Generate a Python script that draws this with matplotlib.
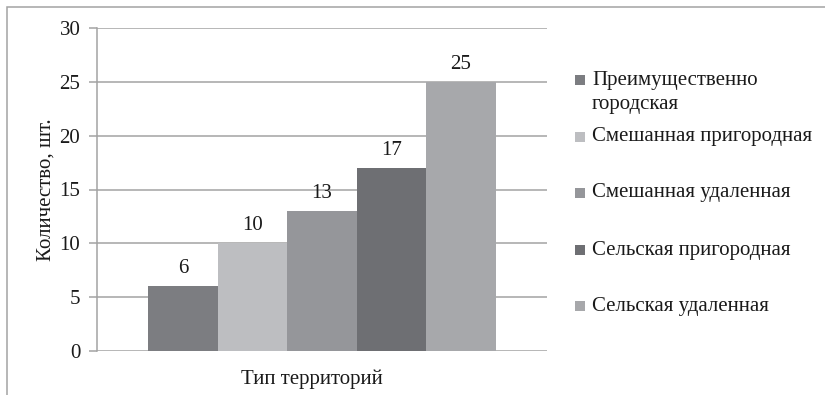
import matplotlib
matplotlib.use("Agg")
import matplotlib.pyplot as plt
import matplotlib.transforms as mtransforms
from matplotlib.patches import Rectangle

categories = ["Тип территорий"]
series_names = [
    "Преимущественно\nгородская",
    "Смешанная пригородная",
    "Смешанная удаленная",
    "Сельская пригородная",
    "Сельская удаленная",
]
values = [6, 10, 13, 17, 25]
colors = ["#7c7d81", "#bdbec1", "#95969a", "#6e6f73", "#a7a8ab"]
y_ticks = [0, 5, 10, 15, 20, 25, 30]
y_label = "Количество, шт."

plt.rcParams["font.family"] = ["Liberation Serif", "DejaVu Serif"]
FS = 15
TXT = "#1a1a1a"
GRID = "#a3a3a3"

fig = plt.figure(figsize=(8.25, 3.95), dpi=100)
fig.patch.set_facecolor("white")

# outer chart frame (open at right and bottom edges of the canvas)
fig.patches.append(Rectangle((7 / 825, -0.1), 1.2, 1 - 7 / 395 + 0.1,
                             transform=fig.transFigure, fill=False,
                             edgecolor=GRID, linewidth=1.1))

ax = fig.add_axes([97 / 825, 1 - 351 / 395, 450 / 825, 323 / 395])
w = 0.1544
for i, (v, c) in enumerate(zip(values, colors)):
    x = (i - 2) * w
    ax.bar(x, v, width=w, color=c, zorder=3)
    ax.text(x, v + 0.75, str(v), ha="center", va="bottom", fontsize=FS,
            color=TXT)

ax.set_xlim(-0.5, 0.5)
ax.set_ylim(0, 30)
ax.set_yticks(y_ticks)
ax.set_yticklabels([str(t) for t in y_ticks], fontsize=FS, color=TXT)
ax.set_xticks([0])
ax.set_xticklabels(categories, fontsize=FS, color=TXT)
ax.tick_params(axis="x", length=0, pad=13)
ax.tick_params(axis="y", length=6, width=1.1, color=GRID, pad=6)
shift = mtransforms.ScaledTranslation(-10 / 100, 0, fig.dpi_scale_trans)
for lbl in ax.get_xticklabels():
    lbl.set_transform(lbl.get_transform() + shift)
ax.grid(axis="y", color=GRID, linewidth=1.1, zorder=0)
for s in ["top", "right", "bottom"]:
    ax.spines[s].set_visible(False)
ax.spines["left"].set_color(GRID)
ax.spines["left"].set_linewidth(1.1)
ax.set_ylabel(y_label, fontsize=FS, color=TXT, labelpad=3)

# legend entries: square swatch aligned with the first text line
legend_y = [80, 137, 193, 250, 306]
for name, c, yy in zip(series_names, colors, legend_y):
    fy = 1 - yy / 395
    fig.patches.append(Rectangle((575 / 825, fy - 5 / 395), 10 / 825, 10 / 395,
                                 transform=fig.transFigure, facecolor=c,
                                 edgecolor="none"))
    for k, line in enumerate(name.split("\n")):
        fig.text(592 / 825, 1 - (yy + 25 * k) / 395, line, fontsize=FS,
                 color=TXT, va="center", ha="left")

fig.savefig("out.png", dpi=100, facecolor="white")
